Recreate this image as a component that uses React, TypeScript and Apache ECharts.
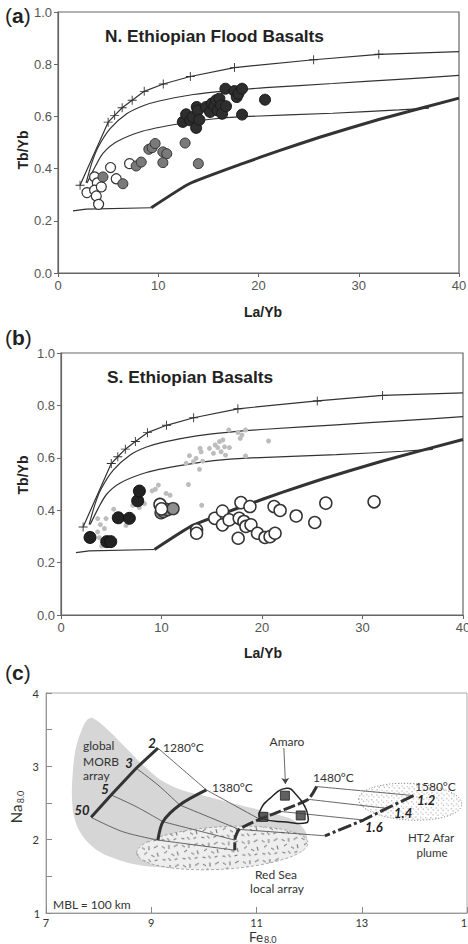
import React, { useEffect, useRef } from "react";
import * as echarts from "echarts";

type P = [number, number];

// ---------------- Panels (a) and (b): Tb/Yb vs La/Yb ----------------
const laYbRange = [0, 40];
const tbYbRange = [0, 1];

// melting model curves
const modelCurveTop: P[] = [[2.2, 0.336], [5.0, 0.578], [5.65, 0.604], [6.4, 0.633], [7.4, 0.662], [8.6, 0.696], [10.5, 0.724], [13.2, 0.753], [17.6, 0.787], [25.5, 0.817], [32.0, 0.838], [40, 0.848]];
const modelCurveMid: P[] = [[2.8, 0.345], [3.4, 0.425], [4.0, 0.482], [5.2, 0.553], [6.85, 0.61], [8.5, 0.641], [10.2, 0.66], [13.5, 0.684], [16.8, 0.698], [20.7, 0.71], [27.4, 0.726], [34, 0.742], [40, 0.757]];
const modelCurveLow: P[] = [[2.9, 0.345], [3.7, 0.407], [4.5, 0.459], [5.85, 0.503], [8.5, 0.544], [11.8, 0.57], [15.2, 0.589], [18.5, 0.599], [27.4, 0.612], [34, 0.625], [37, 0.632]];
const baseCurveThin: P[] = [[1.5, 0.238], [2.8, 0.245], [9.3, 0.25]];
const baseCurveThick: P[] = [[9.3, 0.25], [13.1, 0.342], [18.4, 0.419], [22, 0.468], [26.1, 0.52], [32, 0.588], [40, 0.67]];

// (a) N. Ethiopian Flood Basalts
const nOpen: P[] = [[2.89, 0.308], [3.65, 0.368], [3.92, 0.345], [3.65, 0.317], [3.82, 0.295], [4.05, 0.263], [4.32, 0.33], [5.24, 0.404], [5.81, 0.361], [7.14, 0.419]];
const nGray: P[] = [[4.48, 0.368], [6.47, 0.342], [7.8, 0.41], [8.3, 0.425], [9.06, 0.474], [9.39, 0.48], [9.69, 0.496], [10.46, 0.464], [10.85, 0.457], [10.46, 0.423], [12.68, 0.498], [14.0, 0.419]];
const nDark: P[] = [[12.45, 0.579], [12.78, 0.608], [13.18, 0.585], [13.44, 0.598], [13.78, 0.556], [13.84, 0.636], [13.94, 0.623], [14.1, 0.587], [14.77, 0.636], [15.17, 0.617], [15.34, 0.649], [15.6, 0.639], [15.77, 0.662], [15.93, 0.623], [16.1, 0.668], [16.27, 0.642], [16.37, 0.61], [16.76, 0.639], [16.7, 0.706], [17.6, 0.697], [17.83, 0.674], [18.0, 0.687], [18.36, 0.706], [18.36, 0.607], [20.65, 0.664]];

// (b) S. Ethiopian Basalts
const sBlack: P[] = [[2.89, 0.296], [4.55, 0.28], [4.95, 0.28], [5.7, 0.371], [6.8, 0.369], [7.63, 0.436], [7.8, 0.473]];
const sGray: P[] = [[9.95, 0.39], [10.2, 0.395], [10.6, 0.402], [11.15, 0.406]];
const sOpen: P[] = [[9.85, 0.422], [10.0, 0.405], [13.49, 0.325], [13.49, 0.312], [15.3, 0.369], [16.07, 0.397], [16.07, 0.344], [16.73, 0.363], [17.63, 0.293], [17.73, 0.369], [17.9, 0.429], [18.2, 0.357], [18.4, 0.338], [18.8, 0.414], [18.9, 0.344], [19.55, 0.312], [20.3, 0.296], [20.8, 0.299], [21.3, 0.312], [21.2, 0.414], [21.8, 0.399], [23.4, 0.378], [25.25, 0.353], [26.35, 0.427], [31.15, 0.432]];

// ---------------- Panel (c): Na8.0 vs Fe8.0 ----------------
const feTicks = [7, 9, 11, 13, 15];
const naTicks = [1, 2, 3, 4];
const morbArray: P[] = [[7.889, 3.658], [8.206, 3.476], [8.524, 3.248], [8.841, 3.02], [9.159, 2.824], [9.54, 2.687], [9.984, 2.601], [10.429, 2.518], [10.937, 2.427], [11.381, 2.345], [11.698, 2.268], [11.889, 2.154], [11.965, 2.017], [11.889, 1.903], [11.4, 1.75], [10.556, 1.652], [9.921, 1.606], [9.286, 1.62], [8.778, 1.652], [8.397, 1.72], [8.016, 1.834], [7.73, 2.017], [7.559, 2.245], [7.495, 2.541], [7.508, 2.906], [7.559, 3.225], [7.667, 3.476], [7.775, 3.627]];
// ellipse: centre x, centre y, half-width, half-height, tilt (rad)
const redSeaArray = [10.35, 1.885, 1.63, 0.29, 0.06];
const afarPlume = [13.92, 2.52, 0.98, 0.25, -0.05];
const amaroField: P[] = [[11.57, 2.7], [11.76, 2.61], [11.92, 2.45], [11.98, 2.31], [11.95, 2.23], [11.57, 2.24], [11.1, 2.29], [11.06, 2.38], [11.25, 2.56]];
const amaroSamples: P[] = [[11.54, 2.6], [11.84, 2.33], [11.13, 2.31]];
const amaroArrow: P[] = [[11.52, 3.25], [11.55, 2.76]];
const adiabat1280: P[] = [[9.127, 3.248], [8.714, 2.974], [8.238, 2.61], [7.857, 2.304]];
const adiabat1380: P[] = [[10.048, 2.678], [9.54, 2.473], [9.222, 2.245], [9.127, 1.994]];
const adiabat1480: P[] = [[12.143, 2.724], [11.984, 2.55], [11.444, 2.386], [11.063, 2.277], [10.67, 2.14], [10.587, 1.994], [10.587, 1.857]];
const adiabat1580: P[] = [[13.984, 2.601], [13.476, 2.427], [13.032, 2.268], [12.302, 2.053]];
const gridLinks: P[][] = [
  [[9.127, 3.248], [10.048, 2.678]],
  [[8.714, 2.974], [9.127, 2.746], [9.54, 2.473]],
  [[8.238, 2.61], [8.714, 2.45], [9.222, 2.245]],
  [[7.857, 2.304], [8.46, 2.108], [9.127, 1.994]],
  [[10.048, 2.678], [11.063, 2.277]],
  [[9.54, 2.473], [10.67, 2.14]],
  [[9.222, 2.245], [10.587, 1.994]],
  [[9.127, 1.994], [10.587, 1.857]],
  [[12.143, 2.724], [13.984, 2.601]],
  [[11.984, 2.55], [13.476, 2.427]],
  [[11.444, 2.386], [13.032, 2.268]],
  [[10.67, 2.14], [12.302, 2.053]],
];

const FONT = "'Liberation Sans', Arial, sans-serif";
const GILL = "Lato, 'Open Sans', sans-serif";
const PLUS = "path://M4.5,0H5.5V4.5H10V5.5H5.5V10H4.5V5.5H0V4.5H4.5Z";

function makeTile(w: number, h: number, bg: string, draw: (c: CanvasRenderingContext2D) => void) {
  const cv = document.createElement("canvas");
  cv.width = w;
  cv.height = h;
  const c = cv.getContext("2d")!;
  c.fillStyle = bg;
  c.fillRect(0, 0, w, h);
  draw(c);
  return { image: cv.toDataURL(), repeat: "repeat", imageWidth: w, imageHeight: h } as any;
}

function buildOption() {
  const dashTile = makeTile(20, 20, "#eeeeee", (c) => {
    c.strokeStyle = "#5a5a5a";
    c.lineWidth = 0.9;
    const segs = [[2, 3, 5, 5], [9, 2, 9, 6], [14, 4, 18, 2], [4, 10, 7, 8], [11, 11, 14, 13], [17, 9, 18, 13], [2, 16, 5, 17], [8, 15, 10, 18], [14, 17, 17, 16]];
    segs.forEach(([a, b, d, e]) => { c.beginPath(); c.moveTo(a, b); c.lineTo(d, e); c.stroke(); });
  });
  const dotTile = makeTile(5, 5, "#ffffff", (c) => {
    c.fillStyle = "#8a8a8a";
    c.fillRect(1, 1, 1, 1);
    c.fillRect(3, 3, 1, 1);
  });

  const axAB = (i: number, isX: boolean) => ({
    gridIndex: i,
    type: "value",
    min: isX ? laYbRange[0] : tbYbRange[0],
    max: isX ? laYbRange[1] : tbYbRange[1],
    interval: isX ? 10 : 0.2,
    axisLine: { show: true, lineStyle: { color: "#666", width: 1.2 } },
    axisTick: { show: true, length: 4, lineStyle: { color: "#666" } },
    axisLabel: {
      color: "#555", fontSize: 13, fontFamily: FONT, margin: 6,
      formatter: isX ? (v: number) => String(v) : (v: number) => v.toFixed(1),
    },
    splitLine: { show: false },
  });

  const lineS = (i: number, data: any[], width: number, extra: any = {}) => ({
    type: "line", xAxisIndex: i, yAxisIndex: i, data, symbol: "none", silent: true,
    lineStyle: { color: "#333", width }, z: 2, ...extra,
  });

  const modelSeries = (i: number) => [
    lineS(i, modelCurveTop.map((p, k) => (k === modelCurveTop.length - 1 ? { value: p, symbol: "none" } : { value: p })), 1.2, {
      symbol: PLUS, symbolSize: 9, showSymbol: true, itemStyle: { color: "#333" },
    }),
    lineS(i, modelCurveMid, 1.2, { smooth: 0.25 }),
    lineS(i, modelCurveLow, 1.2, { smooth: 0.25 }),
    lineS(i, baseCurveThin, 1.2),
    lineS(i, baseCurveThick, 3, { smooth: 0.15 }),
  ];

  const dots = (i: number, data: P[], size: number, fill: string, stroke: string, bw: number) => ({
    type: "scatter", xAxisIndex: i, yAxisIndex: i, data, symbol: "circle", symbolSize: size, silent: true, z: 3,
    itemStyle: { color: fill, borderColor: stroke, borderWidth: bw, opacity: 1 },
  });

  const C = 2;
  const cLine = (data: P[], width: number, extra: any = {}) => ({
    type: "line", xAxisIndex: C, yAxisIndex: C, data, symbol: "none", silent: true,
    lineStyle: { color: "#333", width }, z: 4, ...extra,
  });

  const polySeries = (pts: P[], style: any, smooth: number, z: number) => ({
    type: "custom", xAxisIndex: C, yAxisIndex: C, data: pts, silent: true, z,
    renderItem: (params: any, api: any) => {
      if (params.dataIndex !== 0) return null;
      return { type: "polygon", shape: { points: pts.map((p) => api.coord(p)), smooth }, style };
    },
  });

  const ellipseSeries = (e: number[], style: any, z: number) => ({
    type: "custom", xAxisIndex: C, yAxisIndex: C, data: [e], silent: true, z,
    renderItem: (_p: any, api: any) => {
      const c = api.coord([api.value(0), api.value(1)]);
      const s = api.size([api.value(2), api.value(3)]);
      return {
        type: "ellipse", shape: { cx: c[0], cy: c[1], rx: s[0], ry: s[1] },
        rotation: api.value(4), originX: c[0], originY: c[1], style,
      };
    },
  });

  const mkFont = (size: number, family: string, weight = "normal", style = "normal") =>
    `${style} ${weight} ${size}px ${family}`;

  const t = (text: string, x: number, y: number, o: any = {}, extra: any = {}) => {
    const size = o.size ?? 13;
    const family = o.family ?? FONT;
    return {
      type: "text", x, y, silent: true, z: 100,
      style: {
        text,
        fill: o.fill ?? "#222",
        font: mkFont(size, family, o.weight ?? "normal", o.italic ? "italic" : "normal"),
        fontSize: size, fontFamily: family, fontWeight: o.weight ?? "normal", fontStyle: o.italic ? "italic" : "normal",
        align: o.align ?? "left", verticalAlign: "middle",
        ...(o.rich ? { rich: o.rich } : {}),
      },
      ...extra,
    };
  };
  const g = (text: string, x: number, y: number, o: any = {}) =>
    t(text, x, y, { family: GILL, size: 12, fill: "#333", ...o });
  const bi = (text: string, x: number, y: number, align = "left") =>
    t(text, x, y, { family: GILL, size: 13, weight: "bold", italic: true, fill: "#222", align });
  const panelTag = (letter: string, x: number, y: number) =>
    t(`{p|(}{b|${letter}}{p|)}`, x, y, {
      size: 21,
      rich: {
        p: { fontSize: 21, fontFamily: FONT, fill: "#222", font: mkFont(21, FONT) },
        b: { fontSize: 21, fontFamily: FONT, fontWeight: "bold", fill: "#222", font: mkFont(21, FONT, "bold") },
      },
    });
  const rot = { rotation: Math.PI / 2 };

  return {
    animation: false,
    backgroundColor: "#ffffff",
    grid: [
      { left: 58, top: 12, width: 401, height: 261, show: true, borderColor: "#666", borderWidth: 1.2, outerBoundsMode: "none" },
      { left: 61, top: 353, width: 402, height: 262, show: true, borderColor: "#666", borderWidth: 1.2, outerBoundsMode: "none" },
      { left: 46, top: 693, width: 421, height: 220, show: true, borderColor: "#aaa", borderWidth: 1, outerBoundsMode: "none" },
    ],
    xAxis: [
      axAB(0, true),
      axAB(1, true),
      {
        gridIndex: C, type: "value", min: feTicks[0], max: feTicks[feTicks.length - 1], interval: 1,
        axisLine: { show: true, lineStyle: { color: "#999", width: 1 } },
        axisTick: { show: true, inside: true, length: 6, customValues: feTicks, lineStyle: { color: "#888" } },
        axisLabel: { customValues: feTicks, color: "#333", fontSize: 11, fontFamily: GILL, margin: 4 },
        splitLine: { show: false },
      },
    ],
    yAxis: [
      axAB(0, false),
      axAB(1, false),
      {
        gridIndex: C, type: "value", min: naTicks[0], max: naTicks[naTicks.length - 1], interval: 0.5,
        axisLine: { show: true, lineStyle: { color: "#999", width: 1 } },
        axisTick: { show: true, inside: true, length: 6, lineStyle: { color: "#888" } },
        axisLabel: {
          // the corner value (1) is written separately below, where the axes meet
          customValues: naTicks.slice(1),
          color: "#333", fontSize: 11, fontFamily: GILL, margin: 7,
        },
        splitLine: { show: false },
      },
    ],
    series: [
      // panel (a)
      ...modelSeries(0),
      dots(0, nOpen, 10, "#ffffff", "#333", 1.2),
      dots(0, nGray, 10, "#7a7a7a", "#333", 1),
      dots(0, nDark, 11, "#2e2e2e", "#1a1a1a", 1),
      // panel (b)
      ...modelSeries(1),
      dots(1, [...nOpen, ...nGray, ...nDark], 5, "#bdbdbd", "#bdbdbd", 0),
      dots(1, sBlack, 12, "#222", "#111", 1),
      dots(1, sGray, 12, "#8f8f8f", "#333", 1.3),
      dots(1, sOpen, 12, "#ffffff", "#333", 1.5),
      // panel (c)
      polySeries(morbArray, { fill: "#d6d6d6", stroke: "none" }, 0.35, 1),
      ellipseSeries(redSeaArray, { fill: dashTile, stroke: "#9a9a9a", lineWidth: 0.8, lineDash: [3, 2] }, 2),
      ellipseSeries(afarPlume, { fill: dotTile, stroke: "#666", lineWidth: 0.8, lineDash: [1, 2] }, 2),
      ...gridLinks.map((l) => cLine(l, 0.9, { smooth: 0.3, lineStyle: { color: "#555", width: 0.9 } })),
      cLine(adiabat1280, 3),
      cLine(adiabat1380, 3, { smooth: 0.3 }),
      cLine(adiabat1480, 3, { smooth: 0.2, lineStyle: { color: "#333", width: 3, type: [12, 3] } }),
      cLine(adiabat1580, 3, { lineStyle: { color: "#333", width: 3, type: [14, 3, 3, 3] } }),
      polySeries(amaroField, { fill: "none", stroke: "#222", lineWidth: 1.5 }, 0.5, 5),
      {
        type: "scatter", xAxisIndex: C, yAxisIndex: C, data: amaroSamples, symbol: "rect", symbolSize: 9, silent: true, z: 6,
        itemStyle: { color: "#3a3a3a", borderColor: "#222", borderWidth: 1 },
      },
      {
        type: "lines", coordinateSystem: "cartesian2d", xAxisIndex: C, yAxisIndex: C, silent: true, z: 6,
        data: [{ coords: amaroArrow }], symbol: ["none", "arrow"], symbolSize: 6,
        lineStyle: { color: "#444", width: 0.8, opacity: 1 },
      },
    ],
    graphic: [
      // panel (a)
      panelTag("a", 5, 15),
      t("N. Ethiopian Flood Basalts", 105, 36, { weight: "bold", size: 17.3 }),
      t("Tb/Yb", 23, 150, { weight: "bold", size: 14, align: "center" }, rot),
      t("La/Yb", 263, 312, { weight: "bold", size: 14, align: "center" }),
      // panel (b)
      panelTag("b", 5, 337),
      t("S. Ethiopian Basalts", 107, 377, { weight: "bold", size: 17.3 }),
      t("Tb/Yb", 23, 475, { weight: "bold", size: 14, align: "center" }, rot),
      t("La/Yb", 263, 653, { weight: "bold", size: 14, align: "center" }),
      // panel (c)
      panelTag("c", 5, 672),
      t("Na", 16, 814, { family: GILL, size: 15, fill: "#333", align: "center" }, rot),
      t("8.0", 20, 797, { family: GILL, size: 9, fill: "#333", align: "center" }, rot),
      t("Fe", 256, 936.5, { family: GILL, size: 13.5, fill: "#333", align: "center" }),
      t("8.0", 264, 939, { family: GILL, size: 9, fill: "#333" }),
      g(String(naTicks[0]), 37, 913, { align: "center", size: 11 }),
      g("global", 83, 745),
      g("MORB", 83, 761),
      g("array", 83, 775),
      bi("2", 152, 743, "center"),
      bi("3", 129, 763, "center"),
      bi("5", 105, 789, "center"),
      bi("50", 82, 810, "center"),
      g("1280°C", 163, 747),
      g("1380°C", 212, 787),
      g("1480°C", 313, 777),
      g("1580°C", 415, 786),
      g("Amaro", 287, 741, { align: "center" }),
      bi("1.2", 417, 800),
      bi("1.4", 394, 813),
      bi("1.6", 365, 827),
      g("Red Sea", 276, 874, { align: "center" }),
      g("local array", 277, 888, { align: "center" }),
      g("HT2 Afar", 431, 837, { align: "center", size: 11.5 }),
      g("plume", 432, 852, { align: "center", size: 11.5 }),
      g("MBL = 100 km", 53, 904),
    ],
  };
}

export default function App() {
  const ref = useRef<HTMLDivElement>(null);
  useEffect(() => {
    document.body.style.margin = "0";
    const chart = echarts.init(ref.current!, null, { renderer: "svg" });
    chart.setOption(buildOption() as any);
    return () => chart.dispose();
  }, []);
  return <div ref={ref} style={{ width: 468, height: 944, background: "#fff" }} />;
}
